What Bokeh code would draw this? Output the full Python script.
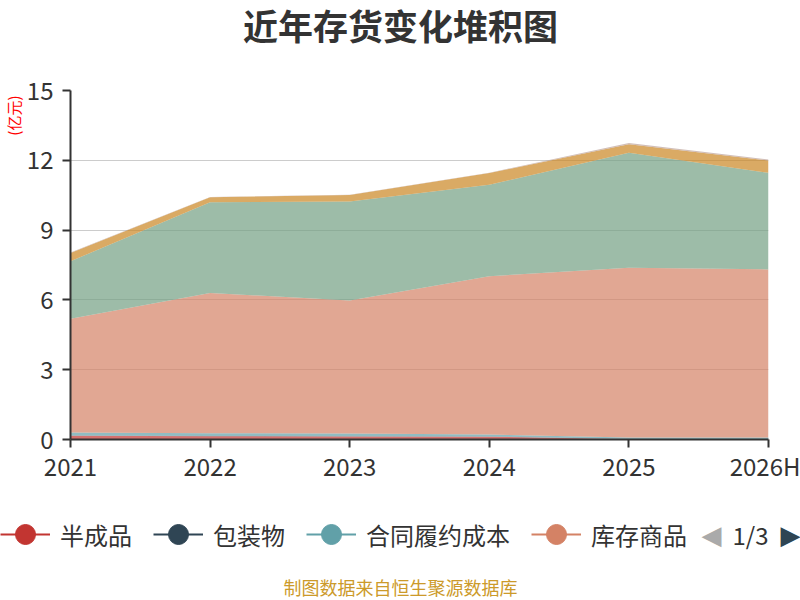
import numpy as np
from bokeh.plotting import figure
from bokeh.layouts import column
from bokeh.models import (ColumnDataSource, Legend, LegendItem, Label, Title,
                          FixedTicker, Range1d)
from bokeh.embed import file_html
from bokeh.resources import INLINE

# ---- data (亿元) ----
years = ["2021", "2022", "2023", "2024", "2025", "2026H"]
banchengpin = [0.16, 0.14, 0.13, 0.12, 0.01, 0.01]      # 半成品
baozhuangwu = [0.01, 0.01, 0.01, 0.01, 0.01, 0.01]      # 包装物
hetong = [0.13, 0.12, 0.12, 0.08, 0.07, 0.07]           # 合同履约成本
kucun = [4.89, 6.03, 5.71, 6.81, 7.29, 7.22]            # 库存商品
weituo = [0.0, 0.0, 0.0, 0.0, 0.0, 0.0]                 # 委托加工物资
yuancailiao = [2.47, 3.90, 4.26, 3.93, 4.94, 4.15]      # 原材料
zaichanpin = [0.36, 0.21, 0.28, 0.50, 0.37, 0.53]       # 在产品
zhouzhuan = [0.02, 0.01, 0.01, 0.02, 0.05, 0.04]        # 周转材料

series_names = ["半成品", "包装物", "合同履约成本", "库存商品",
                "委托加工物资", "原材料", "在产品", "周转材料"]
series_values = [banchengpin, baozhuangwu, hetong, kucun,
                 weituo, yuancailiao, zaichanpin, zhouzhuan]
colors = ["#c23531", "#2f4554", "#61a0a8", "#d48265",
          "#91c7ae", "#749f83", "#ca8622", "#bda29a"]
y_ticks = [0, 3, 6, 9, 12, 15]
legend_page = 4
page_text = "1/3"
title_text = "近年存货变化堆积图"
unit_text = "(亿元)"
source_text = "制图数据来自恒生聚源数据库"

FONT = "Noto Sans CJK SC"
W = 800


def blank(height):
    f = figure(width=W, height=height, x_range=Range1d(0, W),
               y_range=Range1d(0, height), x_axis_type=None, y_axis_type=None,
               output_backend="svg", toolbar_location=None,
               min_border=0, outline_line_color=None, frame_align=False)
    f.grid.visible = False
    return f


# ---- header (title) ----
head = blank(60)
head.add_layout(Label(x=400, y=36, x_units="screen", y_units="screen",
                      text=title_text, text_font=FONT, text_font_size="35px",
                      text_font_style="bold", text_color="#333333",
                      text_align="center", text_baseline="middle"))

# ---- main chart ----
xs = list(range(len(years)))
data = {"x": xs}
for n, v in zip(series_names, series_values):
    data[n] = v
src = ColumnDataSource(data)

p = figure(width=W, height=430,
           x_range=Range1d(0, len(years) - 1),
           y_range=Range1d(y_ticks[0], y_ticks[-1]),
           output_backend="svg", toolbar_location=None, frame_align=False,
           min_border_left=69, min_border_right=32,
           min_border_top=30, min_border_bottom=51)

p.varea_stack(stackers=series_names, x="x", color=colors,
              fill_alpha=0.7, source=src)

p.outline_line_color = None

for ax in (p.xaxis[0], p.yaxis[0]):
    ax.axis_line_color = "#333333"
    ax.axis_line_width = 2
    ax.major_tick_line_color = "#333333"
    ax.major_tick_line_width = 2
    ax.major_tick_out = 8
    ax.major_tick_in = 0
    ax.minor_tick_line_color = None
    ax.major_label_text_font = FONT
    ax.major_label_text_font_size = "24px"
    ax.major_label_text_color = "#333333"

p.xaxis.ticker = FixedTicker(ticks=xs)
p.xaxis.major_label_overrides = {i: y for i, y in zip(xs, years)}
p.xaxis.major_label_standoff = 0
p.yaxis.ticker = FixedTicker(ticks=y_ticks)
p.yaxis.major_label_standoff = 9

p.xgrid.grid_line_color = None
p.ygrid.grid_line_color = "#cccccc"
p.ygrid.grid_line_width = 1

p.add_layout(Title(text=unit_text, align="right", text_font=FONT,
                   text_font_size="15px", text_font_style="normal",
                   text_color="#ff0000", standoff=0, offset=5), "left")

# ---- bottom strip: legend (page 1), pager, source ----
foot = blank(110)
items = []
for n, c in list(zip(series_names, colors))[:legend_page]:
    rl = foot.line(x=[np.nan], y=[np.nan], line_color=c, line_width=2)
    rs = foot.scatter(x=[np.nan], y=[np.nan], marker="circle",
                      fill_color=c, line_color=c)
    items.append(LegendItem(label=n, renderers=[rl, rs]))

legend = Legend(items=items, orientation="horizontal", location=(0, 40),
                glyph_width=50, glyph_height=52,
                label_standoff=10, spacing=21,
                label_text_font=FONT, label_text_font_size="24px",
                label_text_color="#333333",
                padding=0, margin=0,
                border_line_color=None, background_fill_alpha=0)
foot.add_layout(legend, "center")

foot.add_layout(Label(x=711, y=66, x_units="screen", y_units="screen",
                      text="◀", text_font="DejaVu Sans", text_font_size="26px",
                      text_color="#aaaaaa", text_align="center",
                      text_baseline="middle"))
foot.add_layout(Label(x=750, y=66, x_units="screen", y_units="screen",
                      text=page_text, text_font=FONT, text_font_size="24px",
                      text_color="#333333", text_align="center",
                      text_baseline="middle"))
foot.add_layout(Label(x=790, y=66, x_units="screen", y_units="screen",
                      text="▶", text_font="DejaVu Sans", text_font_size="26px",
                      text_color="#2f4554", text_align="center",
                      text_baseline="middle"))
foot.add_layout(Label(x=400, y=14, x_units="screen", y_units="screen",
                      text=source_text, text_font=FONT, text_font_size="18px",
                      text_color="#cc9a2a", text_align="center",
                      text_baseline="middle"))

layout = column(head, p, foot, spacing=0)
open("out.html", "w").write(file_html(layout, INLINE))
